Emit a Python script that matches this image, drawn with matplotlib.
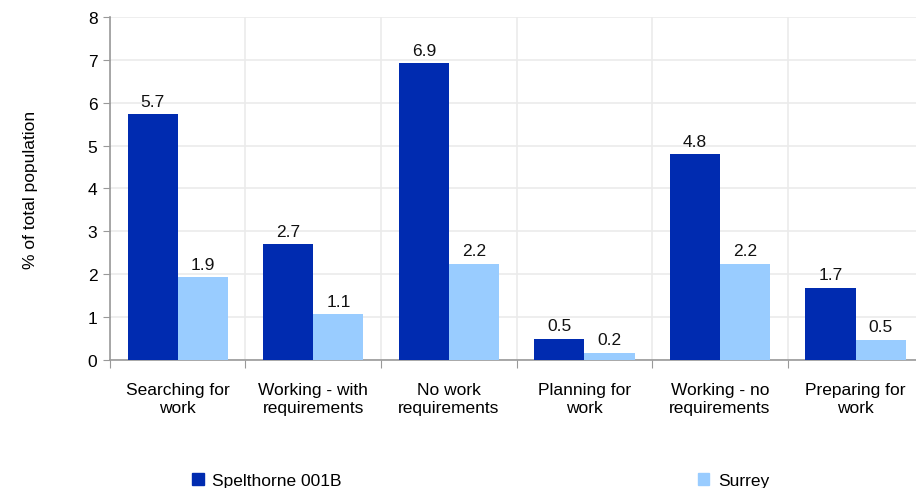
import numpy as np
import matplotlib.pyplot as plt
from matplotlib.patches import Patch

categories = ['Searching for\nwork', 'Working - with\nrequirements', 'No work\nrequirements',
              'Planning for\nwork', 'Working - no\nrequirements', 'Preparing for\nwork']
spelthorne = [5.73, 2.70, 6.92, 0.49, 4.80, 1.68]
surrey = [1.93, 1.06, 2.24, 0.16, 2.24, 0.47]
series_names = ['Spelthorne 001B', 'Surrey']

dark = '#002bb0'
light = '#99ccff'

plt.rcParams['font.family'] = ['Liberation Sans', 'DejaVu Sans']

fig = plt.figure(figsize=(9.16, 4.89), dpi=100)
ax = fig.add_axes([0.120, 0.262, 0.888, 0.701])

x = np.arange(len(categories)) + 0.5
w = 0.37
b1 = ax.bar(x - w / 2, spelthorne, width=w, color=dark, zorder=3)
b2 = ax.bar(x + w / 2, surrey, width=w, color=light, zorder=3)

for bars, vals in [(b1, spelthorne), (b2, surrey)]:
    for rect, v in zip(bars, vals):
        ax.annotate(f'{v:.1f}', (rect.get_x() + rect.get_width() / 2, v),
                    xytext=(0, 4), textcoords='offset points',
                    ha='center', va='bottom', fontsize=12.5, color='#111111')

ax.set_xlim(0, 6)
ax.set_ylim(0, 8)
ax.set_yticks(range(0, 9))
ax.set_xticks(range(0, 7))
ax.set_xticklabels([])
ax.set_xticks(x, minor=True)
ax.set_xticklabels(categories, minor=True, fontsize=12.5, linespacing=1.25)
ax.tick_params(axis='x', which='minor', length=0, pad=16)
ax.tick_params(axis='x', which='major', length=6, color='#999999')
ax.tick_params(axis='y', length=5, color='#999999', labelsize=12.5, pad=4)

ax.grid(True, which='major', color='#ebebeb', linewidth=1.2, zorder=0)
for s in ['top', 'right']:
    ax.spines[s].set_visible(False)
for s in ['left', 'bottom']:
    ax.spines[s].set_color('#999999')
    ax.spines[s].set_linewidth(1.2)

ax.set_ylabel('% of total population', fontsize=12.5, labelpad=36)

for name, col, xpos in [(series_names[0], dark, 0.210), (series_names[1], light, 0.762)]:
    fig.legend(handles=[Patch(color=col, label=name)], loc='center left',
               bbox_to_anchor=(xpos, 0.015), frameon=False, fontsize=12.5,
               handlelength=0.65, handleheight=0.65, handletextpad=0.5,
               borderaxespad=0, borderpad=0)

fig.savefig('out.png', dpi=100)
